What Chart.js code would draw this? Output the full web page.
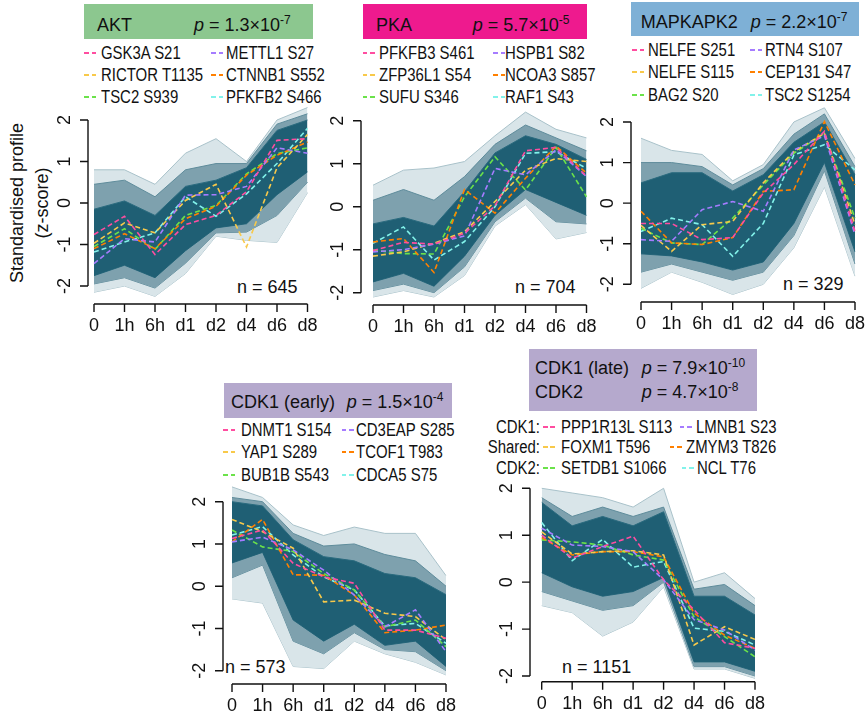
<!DOCTYPE html>
<html>
<head>
<meta charset="utf-8">
<script src="https://cdn.jsdelivr.net/npm/chart.js@4.4.1/dist/chart.umd.min.js"></script>
<style>
body { margin: 0; width: 866px; height: 714px; position: relative; overflow: hidden; background: #fff;
  font-family: "Liberation Sans", Arial, sans-serif; color: #111; }
canvas.plot { position: absolute; left: 0; top: 0; }
.box { position: absolute; }
.t { position: absolute; font-size: 18px; line-height: 18px; white-space: nowrap; }
.t sup { font-size: 12px; line-height: 0; vertical-align: 7px; }
.leg { position: absolute; font-size: 18px; line-height: 18px; white-space: nowrap; transform: scaleX(0.83); transform-origin: 0 50%; }
.dash { position: absolute; width: 12px; height: 2px; }
.ylab { position: absolute; left: -70px; top: 178px; width: 200px; height: 50px; font-size: 18px; line-height: 25px;
  text-align: center; transform: rotate(-90deg); white-space: nowrap; }
</style>
</head>
<body>
<div class="ylab">Standardised profile<br>(z-score)</div>
<script>
const timeLabels = ['0', '1h', '6h', 'd1', 'd2', 'd4', 'd6', 'd8'];
const yTicks = [2, 1, 0, -1, -2];
const siteColours = ['#ff4da0', '#a67cff', '#f8c94a', '#ff8000', '#6be24a', '#82f2ea'];

// AKT
const aktSites = ['GSK3A S21', 'METTL1 S27', 'RICTOR T1135', 'CTNNB1 S552', 'TSC2 S939', 'PFKFB2 S466'];
const aktSiteValues = [
	[-0.76, -0.32, -1.24, -0.52, -0.30, 0.27, 1.51, 1.55],
	[-1.46, -0.86, -0.94, 0.19, 0.20, 0.40, 1.33, 1.20],
	[-0.97, -0.48, -0.72, 0.06, 0.45, -1.06, 0.85, 1.65],
	[-1.10, -0.74, -1.10, -0.38, -0.08, 0.67, 1.15, 1.47],
	[-1.05, -0.62, -1.12, -0.30, -0.06, 0.70, 1.19, 1.33],
	[-1.18, -0.94, -0.72, 0.15, -0.32, 0.22, 0.95, 1.80]
];
const aktMax = [0.8, 0.8, 0.45, 1.2, 1.55, 1.0, 2.0, 2.3];
const aktHi = [0.45, 0.55, 0.15, 0.8, 0.95, 0.95, 1.9, 2.15];
const aktCoreHi = [-0.15, 0.05, -0.3, 0.4, 0.55, 0.85, 1.75, 2.0];
const aktCoreLo = [-1.75, -1.5, -1.8, -1.15, -0.6, -0.5, 0.2, 0.75];
const aktLo = [-1.95, -1.8, -2.05, -1.45, -0.72, -0.7, -0.3, 0.5];
const aktMin = [-2.15, -2.0, -2.25, -1.7, -0.8, -0.9, -0.95, 0.25];

// PKA
const pkaSites = ['PFKFB3 S461', 'HSPB1 S82', 'ZFP36L1 S54', 'NCOA3 S857', 'SUFU S346', 'RAF1 S43'];
const pkaSiteValues = [
	[-1.02, -0.83, -0.87, -0.62, 0.02, 1.30, 1.38, 0.71],
	[-1.05, -1.00, -0.87, -0.68, 0.89, 0.74, 1.32, 0.70],
	[-1.15, -1.05, -0.85, -0.58, 0.12, 0.85, 1.12, 1.05],
	[-0.82, -0.74, -1.53, 0.40, -0.15, 0.66, 1.41, 0.78],
	[-1.01, -1.09, -1.10, 0.23, 1.16, 0.39, 1.38, 0.23],
	[-0.85, -0.47, -1.24, -0.81, 0.00, 1.24, 1.28, 0.89]
];
const pkaMax = [0.5, 0.85, 0.9, 1.05, 1.65, 2.2, 1.8, 1.6];
const pkaHi = [0.15, 0.4, 0.15, 0.7, 1.45, 1.9, 1.6, 1.3];
const pkaCoreHi = [-0.4, -0.25, -0.45, 0.35, 1.25, 1.65, 1.45, 1.1];
const pkaCoreLo = [-1.75, -1.55, -1.85, -1.15, -0.2, 0.4, 0.1, -0.2];
const pkaLo = [-1.95, -1.8, -2.0, -1.4, -0.35, 0.2, -0.35, -0.4];
const pkaMin = [-2.1, -1.95, -2.1, -1.6, -0.45, 0.05, -0.75, -0.6];

// MAPKAPK2
const mkSites = ['NELFE S251', 'RTN4 S107', 'NELFE S115', 'CEP131 S47', 'BAG2 S20', 'TSC2 S1254'];
const mkSiteValues = [
	[-0.50, -0.50, -0.90, -0.85, 0.25, 0.95, 1.77, -0.70],
	[-0.90, -0.94, -0.16, 0.04, -0.20, 1.31, 1.66, -0.78],
	[-0.55, -1.19, -0.53, -0.45, 0.50, 1.27, 1.72, -0.53],
	[-0.20, -0.98, -1.02, -0.85, 0.29, 0.33, 2.01, 0.45],
	[-0.62, -0.98, -1.02, -0.37, 0.45, 1.23, 1.72, -0.37],
	[-0.70, -0.37, -0.53, -1.31, -0.50, 1.19, 1.44, 0.82]
];
const mkMax = [1.6, 1.3, 1.2, 0.55, 0.95, 2.0, 2.35, 1.1];
const mkHi = [1.0, 1.0, 0.9, 0.45, 0.85, 1.7, 2.2, 0.9];
const mkCoreHi = [0.5, 0.75, 0.75, 0.3, 0.7, 1.5, 2.0, 0.7];
const mkCoreLo = [-1.25, -1.3, -1.45, -1.65, -1.45, -0.5, 1.0, -1.2];
const mkLo = [-1.7, -1.5, -1.7, -1.9, -1.7, -0.8, 0.8, -1.5];
const mkMin = [-2.1, -1.7, -1.95, -2.25, -2.0, -1.1, 0.4, -1.8];

// CDK1 (early)
const earlySites = ['DNMT1 S154', 'CD3EAP S285', 'YAP1 S289', 'TCOF1 T983', 'BUB1B S543', 'CDCA5 S75'];
const earlySiteValues = [
	[1.13, 1.33, 0.54, 0.22, 0.07, -1.04, -1.04, -1.23],
	[1.05, 1.16, 0.86, 0.38, -0.21, -0.96, -0.56, -1.55],
	[1.58, 1.29, 0.90, -0.37, -0.33, -0.64, -0.72, -1.27],
	[1.05, 1.58, 0.27, 0.26, -0.21, -1.10, -1.04, -0.92],
	[1.33, 0.93, 0.82, 0.30, -0.09, -0.96, -0.80, -1.43],
	[1.21, 1.41, 0.74, 0.22, -0.09, -0.94, -0.88, -1.35]
];
const earlyMax = [2.35, 2.1, 1.45, 1.2, 1.4, 1.25, 1.25, 0.25];
const earlyHi = [2.1, 2.0, 1.25, 0.95, 1.0, 0.75, 0.6, 0.0];
const earlyCoreHi = [2.0, 1.9, 1.1, 0.7, 0.6, 0.3, 0.2, -0.2];
const earlyCoreLo = [0.55, 0.8, -0.8, -1.3, -0.9, -1.4, -1.3, -1.9];
const earlyLo = [0.2, 0.5, -1.3, -1.6, -1.1, -1.5, -1.55, -2.0];
const earlyMin = [-0.3, -0.4, -1.9, -1.95, -1.3, -1.6, -1.8, -2.1];

// CDK1 (late) / CDK2
const lateSites = ['PPP1R13L S113', 'LMNB1 S23', 'FOXM1 T596', 'ZMYM3 T826', 'SETDB1 S1066', 'NCL T76'];
const lateGroups = ['CDK1:', 'Shared:', 'CDK2:'];
const lateSiteValues = [
	[1.00, 0.51, 0.76, 0.98, 0.05, -0.59, -1.29, -1.41],
	[1.15, 0.79, 0.76, 0.65, 0.05, -0.80, -1.02, -1.45],
	[1.07, 0.60, 0.65, 0.67, 0.58, -1.34, -0.95, -1.22],
	[0.95, 0.58, 0.65, 0.65, 0.54, -0.66, -1.13, -1.41],
	[0.90, 0.86, 0.79, 0.58, 0.47, -0.74, -1.16, -1.59],
	[1.27, 0.46, 0.91, 0.32, 0.44, -0.98, -1.05, -1.34]
];
const lateMax = [2.0, 1.9, 1.8, 1.6, 2.0, 0.0, 0.2, -0.35];
const lateHi = [1.8, 1.4, 1.6, 1.4, 1.6, -0.15, -0.05, -0.5];
const lateCoreHi = [1.7, 1.2, 1.4, 1.2, 1.5, -0.3, -0.3, -0.7];
const lateCoreLo = [0.2, -0.1, -0.3, -0.2, 0.1, -1.7, -1.7, -1.9];
const lateLo = [-0.2, -0.4, -0.6, -0.5, 0.0, -1.8, -1.8, -2.0];
const lateMin = [-0.5, -0.65, -1.15, -0.85, -0.1, -1.85, -1.85, -2.05];

const panels = [
	{ n: 'n = 645', sites: aktSites, values: aktSiteValues,
	  band: [aktMax, aktHi, aktCoreHi, aktCoreLo, aktLo, aktMin],
	  geo: { x0: 94, x7: 307.5, y2: 120, yN2: 286, yAxisX: 88, xAxisY: 304 },
	  nPos: [237, 278], legX: [83.5, 101, 210.7, 226], legY: [59.3, 81, 102.7] },
	{ n: 'n = 704', sites: pkaSites, values: pkaSiteValues,
	  band: [pkaMax, pkaHi, pkaCoreHi, pkaCoreLo, pkaLo, pkaMin],
	  geo: { x0: 373, x7: 586.5, y2: 120.7, yN2: 292.7, yAxisX: 361, xAxisY: 305 },
	  nPos: [515, 278], legX: [362.7, 379.3, 493.3, 505], legY: [59.3, 81, 102.7] },
	{ n: 'n = 329', sites: mkSites, values: mkSiteValues,
	  band: [mkMax, mkHi, mkCoreHi, mkCoreLo, mkLo, mkMin],
	  geo: { x0: 641, x7: 855, y2: 122, yN2: 284.3, yAxisX: 631, xAxisY: 302 },
	  nPos: [783, 275], legX: [631.7, 648.3, 750, 765], legY: [56, 78.3, 100.7] },
	{ n: 'n = 573', sites: earlySites, values: earlySiteValues,
	  band: [earlyMax, earlyHi, earlyCoreHi, earlyCoreLo, earlyLo, earlyMin],
	  geo: { x0: 232, x7: 446, y2: 501.7, yN2: 670.7, yAxisX: 223, xAxisY: 684 },
	  nPos: [225, 658], legX: [223.3, 241, 341.7, 356], legY: [436, 458.3, 481] },
	{ n: 'n = 1151', sites: lateSites, values: lateSiteValues,
	  band: [lateMax, lateHi, lateCoreHi, lateCoreLo, lateLo, lateMin],
	  geo: { x0: 541.7, x7: 755, y2: 488.3, yN2: 676, yAxisX: 530, xAxisY: 681.7 },
	  nPos: [562, 658], legX: [543, 561, 680, 696], legY: [433, 453.3, 474],
	  col2: [[680, 696], [670, 686], [681.7, 696.7]], groups: lateGroups }
];

const titles = [
	{ box: [84, 4, 229, 35, '#8cc78f'], rows: [['AKT', 97, 15.5, '1.3', '-7', 194]] },
	{ box: [363, 4, 224, 35, '#ee1a8e'], rows: [['PKA', 376, 15.5, '5.7', '-5', 472.7]] },
	{ box: [631, 2, 228, 34, '#7eb0d6'], rows: [['MAPKAPK2', 640.7, 13.3, '2.2', '-7', 750.7]] },
	{ box: [224, 383, 228, 35, '#b5a9cd'], rows: [['CDK1 (early)', 231, 393, '1.5', '-4', 346.7]] },
	{ box: [529, 349, 228, 62, '#b5a9cd'], rows: [['CDK1 (late)', 535, 359, '7.9', '-10', 641.7], ['CDK2', 535, 383, '4.7', '-8', 641.7]] }
];

function addEl(cls, left, top, html, extra) {
	const d = document.createElement('div');
	d.className = cls;
	d.style.left = left + 'px';
	d.style.top = top + 'px';
	if (html) d.innerHTML = html;
	if (extra) Object.assign(d.style, extra);
	document.body.appendChild(d);
	return d;
}

titles.forEach(t => {
	const [l, tp, w, h, col] = t.box;
	addEl('box', l, tp, '', { width: w + 'px', height: h + 'px', background: col });
	t.rows.forEach(r => {
		addEl('t', r[1], r[2], r[0]);
		addEl('t', r[5], r[2], '<i>p</i> = ' + r[3] + '×10<sup>' + r[4] + '</sup>');
	});
});

function dashMarker(left, baseline, colour) {
	addEl('dash', left, baseline - 7, '', {
		background: 'repeating-linear-gradient(to right, ' + colour + ' 0 4.5px, transparent 4.5px 7.5px)'
	});
}

panels.forEach(p => {
	addEl('t', p.nPos[0], p.nPos[1], p.n);
	p.sites.forEach((s, i) => {
		const row = Math.floor(i / 2), col = i % 2;
		const base = p.legY[row];
		let dx = p.legX[col * 2], tx = p.legX[col * 2 + 1];
		if (p.col2 && col === 1) { dx = p.col2[row][0]; tx = p.col2[row][1]; }
		dashMarker(dx, base, siteColours[i]);
		addEl('leg', tx, base - 15.2, s);
	});
	if (p.groups) {
		p.groups.forEach((g, row) => {
			addEl('t', 0, p.legY[row] - 15.2, g, { width: '540px', textAlign: 'right', transform: 'scaleX(0.83)', transformOrigin: '100% 50%' });
		});
	}
});

// R-style axes: lines span only the tick range and sit apart from the data
const rAxes = {
	id: 'rAxes',
	afterDraw(chart, args, opts) {
		const ctx = chart.ctx, xs = chart.scales.x, ys = chart.scales.y;
		ctx.save();
		ctx.strokeStyle = '#111';
		ctx.lineWidth = 1.4;
		ctx.beginPath();
		ctx.moveTo(opts.yAxisX, ys.getPixelForValue(2));
		ctx.lineTo(opts.yAxisX, ys.getPixelForValue(-2));
		yTicks.forEach(v => {
			const py = ys.getPixelForValue(v);
			ctx.moveTo(opts.yAxisX, py);
			ctx.lineTo(opts.yAxisX - 8, py);
		});
		ctx.moveTo(xs.getPixelForValue(0), opts.xAxisY);
		ctx.lineTo(xs.getPixelForValue(timeLabels.length - 1), opts.xAxisY);
		timeLabels.forEach((lab, i) => {
			const px = xs.getPixelForValue(i);
			ctx.moveTo(px, opts.xAxisY);
			ctx.lineTo(px, opts.xAxisY + 8);
		});
		ctx.stroke();
		ctx.fillStyle = '#111';
		ctx.font = '18px "Liberation Sans", Arial, sans-serif';
		ctx.textAlign = 'center';
		ctx.textBaseline = 'middle';
		yTicks.forEach(v => {
			ctx.save();
			ctx.translate(opts.yAxisX - 23, ys.getPixelForValue(v));
			ctx.rotate(-Math.PI / 2);
			ctx.fillText(String(v), 0, 0);
			ctx.restore();
		});
		timeLabels.forEach((lab, i) => {
			ctx.fillText(lab, xs.getPixelForValue(i), opts.xAxisY + 22);
		});
		ctx.restore();
	}
};

function bandSet(data, colour, border, width, fill) {
	return { data: data, borderColor: border, backgroundColor: colour, borderWidth: width,
		pointRadius: 0, tension: 0, fill: fill };
}

const Y_MIN = -2.6, Y_MAX = 2.6;

panels.forEach(p => {
	const canvas = document.createElement('canvas');
	canvas.width = 866;
	canvas.height = 714;
	canvas.className = 'plot';
	document.body.appendChild(canvas);
	const g = p.geo;
	const ppu = (g.yN2 - g.y2) / 4;
	const [mx, hi, cHi, cLo, lo, mn] = p.band;
	const datasets = p.values.map((v, i) => ({
		data: v, borderColor: siteColours[i], borderWidth: 1.6, borderDash: [5, 3],
		pointRadius: 0, tension: 0, fill: false
	}));
	datasets.push(
		bandSet(cHi, '#1f5f74', '#2a6a7e', 1, '+1'),
		bandSet(cLo, '#1f5f74', '#2a6a7e', 1, false),
		bandSet(hi, '#7ea1ae', '#5f8c9b', 1, '+1'),
		bandSet(lo, '#7ea1ae', '#5f8c9b', 1, false),
		bandSet(mx, '#d9e5e9', '#a9c2ca', 1, '+1'),
		bandSet(mn, '#d9e5e9', '#a9c2ca', 1, false)
	);
	new Chart(canvas, {
		type: 'line',
		data: { labels: timeLabels, datasets: datasets },
		options: {
			responsive: false,
			animation: false,
			devicePixelRatio: 1,
			layout: {
				padding: {
					left: g.x0,
					right: 866 - g.x7,
					top: g.y2 - (Y_MAX - 2) * ppu,
					bottom: 714 - (g.yN2 + (-2 - Y_MIN) * ppu)
				}
			},
			scales: {
				x: { display: false, offset: false },
				y: { display: false, min: Y_MIN, max: Y_MAX }
			},
			plugins: {
				legend: { display: false },
				tooltip: { enabled: false },
				rAxes: { yAxisX: g.yAxisX, xAxisY: g.xAxisY }
			},
			elements: { line: { borderCapStyle: 'butt' } }
		},
		plugins: [rAxes]
	});
});
</script>
</body>
</html>
